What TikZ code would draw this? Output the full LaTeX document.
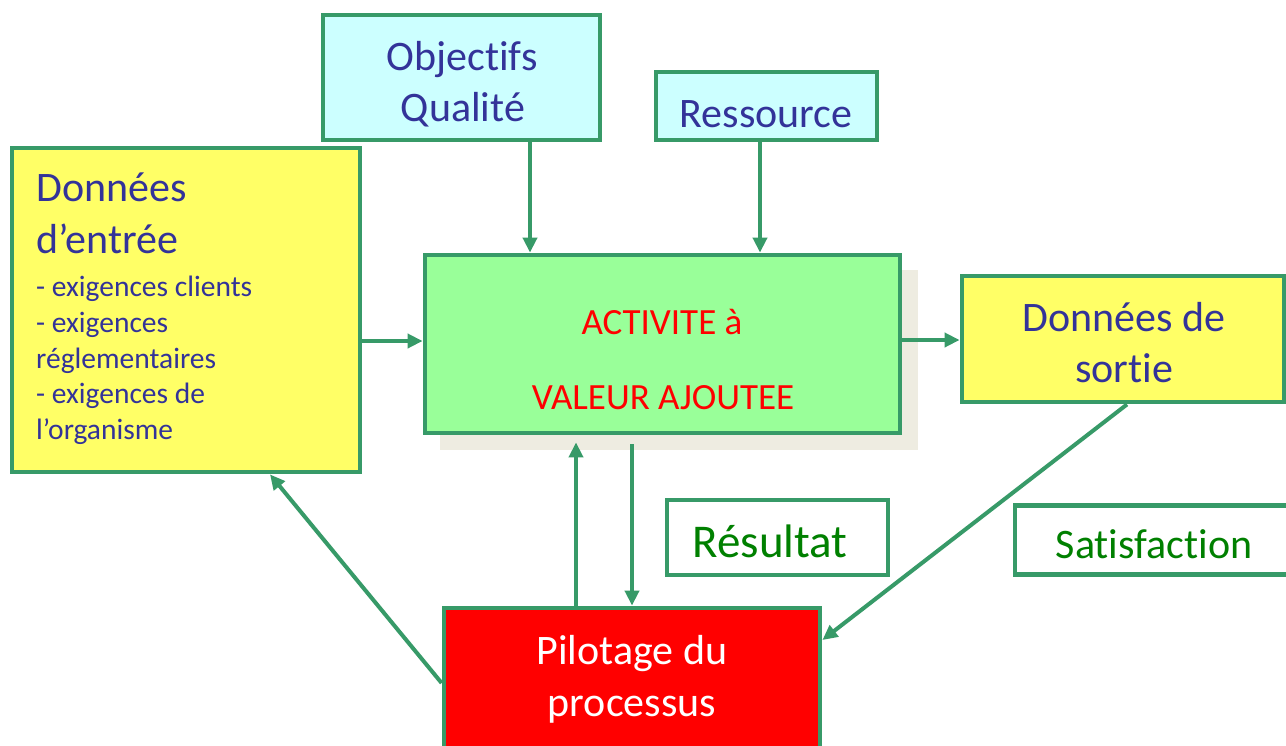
\documentclass[tikz,border=0pt]{standalone}
\usepackage{fontspec}
\setmainfont{Carlito}[Ligatures={NoCommon}]
\usetikzlibrary{arrows.meta}
\definecolor{bord}{HTML}{379A68}
\definecolor{tblue}{HTML}{333399}
\definecolor{tgreen}{HTML}{008000}
\definecolor{fyellow}{HTML}{FFFF66}
\definecolor{fcyan}{HTML}{CCFFFF}
\definecolor{fgreen}{HTML}{99FF99}
\definecolor{fred}{HTML}{FF0000}
\definecolor{shadowc}{HTML}{EEECE1}
\begin{document}
\begin{tikzpicture}[x=1pt,y=-1pt,
  box/.style={draw=bord,line width=4.8pt,inner sep=0pt},
  arr/.style={draw=bord,line width=4pt,-{Triangle[length=15pt,width=14pt]}},
  big/.style={font=\fontsize{42}{50}\selectfont,inner sep=0pt},
  small/.style={font=\fontsize{29.5}{36}\selectfont,inner sep=0pt,text=tblue,anchor=base west},
  mid/.style={font=\fontsize{37}{44}\selectfont,inner sep=0pt,text=fred,anchor=base}]
\useasboundingbox (0,0) rectangle (1286,745);
\clip (0,0) rectangle (1286,745);
\fill[white] (0,0) rectangle (1286,745);
% boxes
\node[box,fill=fcyan,minimum width=277,minimum height=125] (obj) at (461.5,77.5) {};
\node[box,fill=fcyan,minimum width=221,minimum height=68] (res) at (766.5,106) {};
\node[box,fill=fyellow,minimum width=348,minimum height=324] (din) at (186,310) {};
\node[fill=shadowc,inner sep=0pt,minimum width=478,minimum height=180] (shad) at (679,360) {};
\node[box,fill=fgreen,minimum width=475,minimum height=178] (act) at (662.5,344) {};
\node[box,fill=fyellow,minimum width=322,minimum height=126] (dso) at (1123,339) {};
\node[box,fill=white,minimum width=221,minimum height=75] (resu) at (777.5,537.5) {};
\node[box,fill=white,minimum width=305,minimum height=69] (sat) at (1167.5,540) {};
\node[box,fill=fred,minimum width=376,minimum height=182] (pil) at (632,699) {};
% texts
\node[big,text=tblue,anchor=base] (t1) at (462,70) {Objectifs};
\node[big,text=tblue,anchor=base] (t2) at (463,121) {Qualité};
\node[big,text=tblue,anchor=base] (t3) at (766,127) {Ressource};
\node[big,text=tblue,anchor=base west] (t4) at (36,201) {Données};
\node[big,text=tblue,anchor=base west] (t5) at (36,253) {d’entrée};
\node[small] (t6) at (36,296) {- exigences clients};
\node[small] (t7) at (36,332) {- exigences};
\node[small] (t8) at (36,368) {réglementaires};
\node[small] (t9) at (36,403) {- exigences de};
\node[small] (t10) at (36,439) {l’organisme};
\node[mid] (t11) at (662,334) {ACTIVITE à};
\node[mid] (t12) at (663,409) {VALEUR AJOUTEE};
\node[big,text=tblue,anchor=base] (t13) at (1124,331) {Données de};
\node[big,text=tblue,anchor=base] (t14) at (1124,382) {sortie};
\node[font=\fontsize{47}{56}\selectfont,inner sep=0pt,text=tgreen,anchor=base] (t15) at (770,557) {Résultat};
\node[big,text=tgreen,anchor=base] (t16) at (1154,558) {Satisfaction};
\node[big,text=white,anchor=base] (t17) at (632,664) {Pilotage du};
\node[big,text=white,anchor=base] (t18) at (632,716) {processus};
% connectors
\draw[arr] ([xshift=68.5pt]obj.south) -- ([xshift=68.5pt]obj.south |- act.north);
\draw[arr] ([xshift=-6.5pt]res.south) -- ([xshift=-6.5pt]res.south |- act.north);
\draw[arr] ([yshift=-31pt]din.east) -- ([yshift=-31pt]din.east -| act.west);
\draw[arr] ([yshift=4pt]act.east) -- ([yshift=4pt]act.east -| dso.west);
\coordinate (pu) at ([xshift=-56pt]pil.north);
\draw[arr] (pu) -- ([yshift=-7pt]act.south -| pu);
\coordinate (pd) at ([yshift=-9pt]act.south -| pil.north);
\draw[arr] (pd) -- (pil.north);
\draw[arr] ([xshift=4pt]dso.south) -- ([yshift=59pt]pil.east);
\draw[arr] ([yshift=16pt]pil.west) -- ([xshift=84pt]din.south);
\end{tikzpicture}
\end{document}
